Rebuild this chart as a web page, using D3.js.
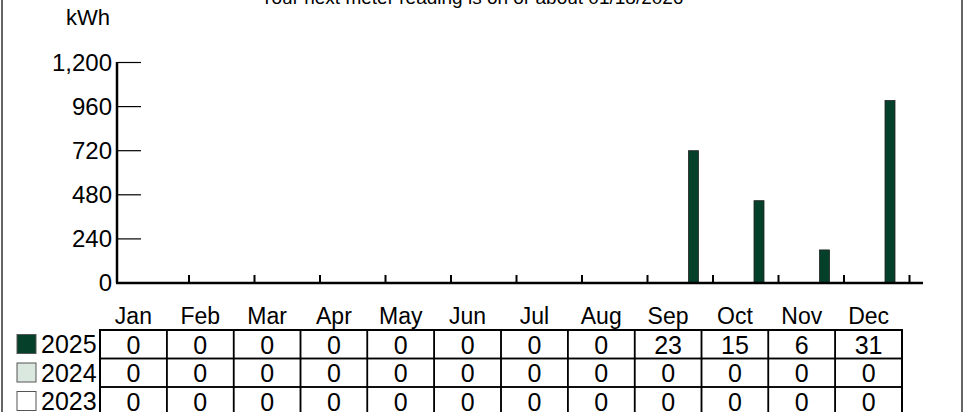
<!DOCTYPE html>
<html>
<head>
<meta charset="utf-8">
<script src="https://cdn.jsdelivr.net/npm/d3@7"></script>
<style>
  body { margin: 0; background: #fff; }
  svg { display: block; font-family: "Liberation Sans", Arial, sans-serif; }
</style>
</head>
<body>
<div id="chart"></div>
<script>
// chart data
const months = ["Jan", "Feb", "Mar", "Apr", "May", "Jun", "Jul", "Aug", "Sep", "Oct", "Nov", "Dec"];
const years = ["2023", "2024", "2025"];
const usage2025 = [0, 0, 0, 0, 0, 0, 0, 0, 720, 448, 180, 993];
const usage2024 = [0, 0, 0, 0, 0, 0, 0, 0, 0, 0, 0, 0];
const usage2023 = [0, 0, 0, 0, 0, 0, 0, 0, 0, 0, 0, 0];
const table2025 = [0, 0, 0, 0, 0, 0, 0, 0, 23, 15, 6, 31];
const table2024 = [0, 0, 0, 0, 0, 0, 0, 0, 0, 0, 0, 0];
const table2023 = [0, 0, 0, 0, 0, 0, 0, 0, 0, 0, 0, 0];
const yTicks = [0, 240, 480, 720, 960, 1200];
const titleText = "Your next meter reading is on or about 01/18/2026";
const unitLabel = "kWh";

const yearColors = { "2025": "#05402b", "2024": "#dbe8e0", "2023": "#ffffff" };

const width = 968;
const height = 412;

const svg = d3.select("#chart").append("svg")
  .attr("width", width)
  .attr("height", height);

// outer frame (runs past the top and bottom edges)
svg.append("rect")
  .attr("x", 2).attr("y", -20)
  .attr("width", 960).attr("height", height + 40)
  .attr("fill", "none")
  .attr("stroke", "#333")
  .attr("stroke-width", 1.5);

// title, clipped at top like the source
svg.append("text")
  .attr("x", 472).attr("y", 4)
  .attr("text-anchor", "middle")
  .attr("font-size", 19)
  .attr("fill", "#000")
  .text(titleText);

svg.append("text")
  .attr("x", 88).attr("y", 25)
  .attr("text-anchor", "middle")
  .attr("font-size", 22)
  .text(unitLabel);

// scales
const y = d3.scaleLinear()
  .domain([0, 1200])
  .range([283, 62.5]);

const x = d3.scaleBand()
  .domain(months)
  .range([123.5, 909.5]);

const xYear = d3.scaleBand()
  .domain(years)
  .range([21, 51]);

// y axis
const yAxis = svg.append("g")
  .attr("transform", "translate(117,0)")
  .call(d3.axisLeft(y).tickValues(yTicks).tickSize(0).tickPadding(5).tickFormat(d3.format(",")));
yAxis.select(".domain").remove();
yAxis.selectAll("text")
  .attr("font-size", 24)
  .attr("font-family", "Liberation Sans, Arial, sans-serif")
  .attr("fill", "#000");

svg.append("g")
  .selectAll("line")
  .data(yTicks)
  .join("line")
    .attr("x1", 117).attr("x2", 141)
    .attr("y1", d => y(d)).attr("y2", d => y(d))
    .attr("stroke", "#000")
    .attr("stroke-width", 1.2);

svg.append("line")
  .attr("x1", 117).attr("x2", 117)
  .attr("y1", y(1200) - 0.5).attr("y2", y(0))
  .attr("stroke", "#000").attr("stroke-width", 2.5);

// bars
const series = { "2025": usage2025, "2024": usage2024, "2023": usage2023 };
years.forEach(yr => {
  svg.append("g")
    .selectAll("rect")
    .data(series[yr].map((v, i) => ({ month: months[i], value: v })).filter(d => d.value > 0))
    .join("rect")
      .attr("x", d => x(d.month) + xYear(yr))
      .attr("width", xYear.bandwidth())
      .attr("y", d => y(d.value))
      .attr("height", d => y(0) - y(d.value))
      .attr("fill", yearColors[yr])
      .attr("stroke", "#222")
      .attr("stroke-width", 0.8);
});

// x axis line and month end ticks
svg.append("line")
  .attr("x1", 116).attr("x2", 923)
  .attr("y1", y(0)).attr("y2", y(0))
  .attr("stroke", "#000").attr("stroke-width", 2.5);

svg.append("g")
  .selectAll("line")
  .data(months)
  .join("line")
    .attr("x1", d => x(d) + x.bandwidth())
    .attr("x2", d => x(d) + x.bandwidth())
    .attr("y1", y(0)).attr("y2", y(0) - 8)
    .attr("stroke", "#000").attr("stroke-width", 2);

// data table
const col = d3.scaleBand()
  .domain(months)
  .range([100, 902]);

const row = d3.scaleBand()
  .domain(["2025", "2024", "2023"])
  .range([330, 415.5]);

svg.append("g")
  .selectAll("text")
  .data(months)
  .join("text")
    .attr("x", d => col(d) + col.bandwidth() / 2)
    .attr("y", 324)
    .attr("text-anchor", "middle")
    .attr("font-size", 23)
    .text(d => d);

const tableRows = { "2025": table2025, "2024": table2024, "2023": table2023 };
row.domain().forEach(yr => {
  const g = svg.append("g");
  g.selectAll("rect")
    .data(months)
    .join("rect")
      .attr("x", d => col(d))
      .attr("y", row(yr))
      .attr("width", col.bandwidth())
      .attr("height", row.bandwidth())
      .attr("fill", "none")
      .attr("stroke", "#000")
      .attr("stroke-width", 1.5);
  g.selectAll("text")
    .data(tableRows[yr].map((v, i) => ({ month: months[i], value: v })))
    .join("text")
      .attr("x", d => col(d.month) + col.bandwidth() / 2)
      .attr("y", row(yr) + row.bandwidth() / 2 + 9.5)
      .attr("text-anchor", "middle")
      .attr("font-family", "Liberation Sans Narrow, Arial Narrow, sans-serif")
      .attr("font-size", 25)
      .text(d => d.value);

  // legend swatch + label
  svg.append("rect")
    .attr("x", 17).attr("y", row(yr) + 4.5)
    .attr("width", 19).attr("height", 19)
    .attr("fill", yearColors[yr])
    .attr("stroke", "#555")
    .attr("stroke-width", 1);
  svg.append("text")
    .attr("x", 41).attr("y", row(yr) + row.bandwidth() / 2 + 9)
    .attr("font-family", "Liberation Sans Narrow, Arial Narrow, sans-serif")
    .attr("font-size", 25)
    .text(yr);
});

svg.append("rect")
  .attr("x", 100).attr("y", 330)
  .attr("width", 802).attr("height", 85.5)
  .attr("fill", "none")
  .attr("stroke", "#000")
  .attr("stroke-width", 2);
</script>
</body>
</html>
